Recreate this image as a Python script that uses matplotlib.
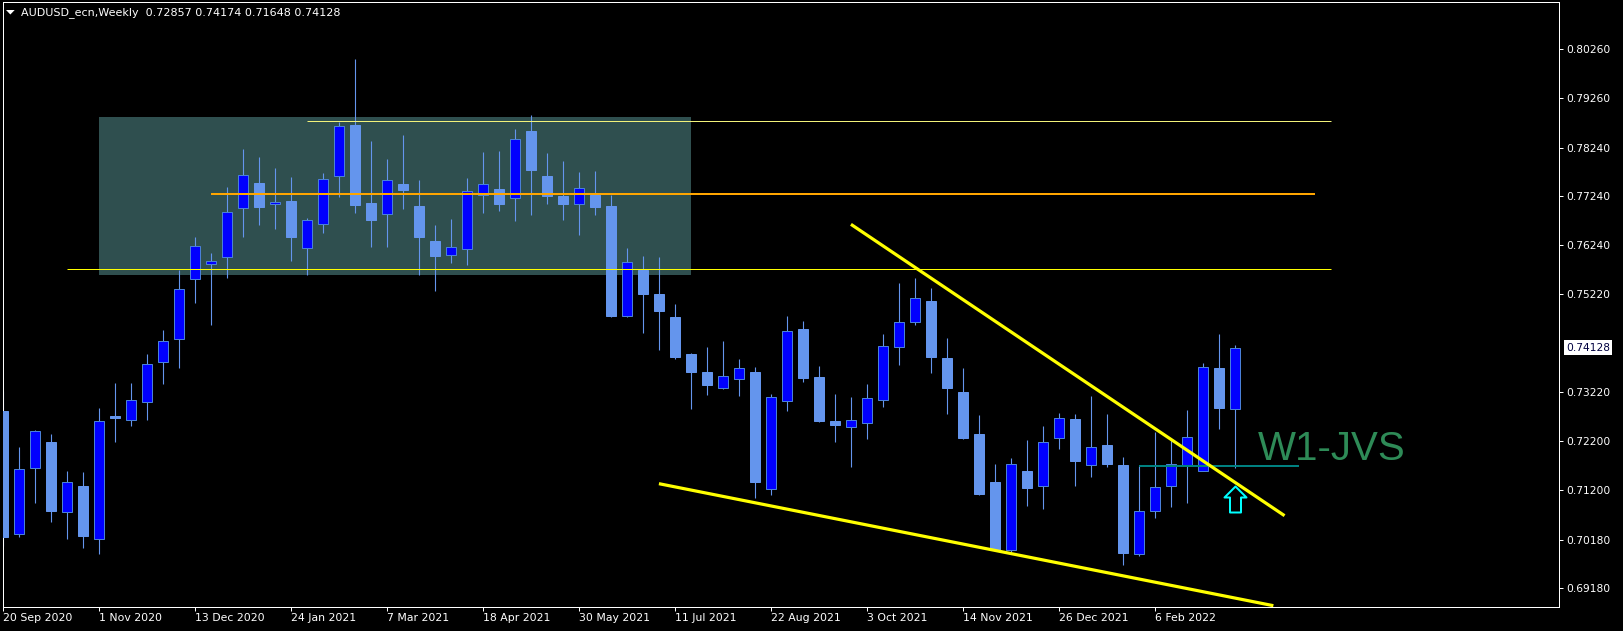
import matplotlib
matplotlib.use("Agg")
import matplotlib.pyplot as plt
from matplotlib.patches import Rectangle, Polygon
from matplotlib.path import Path
import matplotlib.transforms as mtransforms

# weekly AUDUSD candles, 20 Sep 2020 .. 13 Mar 2022 (one per week)
opens = [0.72824, 0.70289, 0.71646, 0.72181, 0.70742, 0.71282, 0.70199, 0.72721, 0.72633, 0.73003,
         0.73825, 0.74298, 0.75531, 0.75840, 0.75984, 0.76991, 0.77511, 0.77073, 0.77141, 0.76169,
         0.76662, 0.77649, 0.78697, 0.77100, 0.76868, 0.77491, 0.77038, 0.76319, 0.76025, 0.76148,
         0.77258, 0.77388, 0.77197, 0.78580, 0.77655, 0.77244, 0.77073, 0.77264, 0.77038, 0.74783,
         0.75729, 0.75229, 0.74756, 0.73996, 0.73626, 0.73303, 0.73488, 0.73626, 0.71214, 0.73023,
         0.74510, 0.73523, 0.72618, 0.72489, 0.72571, 0.73050, 0.74133, 0.74647, 0.75085, 0.73907,
         0.73215, 0.72351, 0.71364, 0.69967, 0.71584, 0.71276, 0.72263, 0.72660, 0.71714, 0.72125,
         0.71714, 0.69890, 0.70762, 0.71276, 0.71708, 0.71584, 0.73708, 0.72857]
highs = [0.73235, 0.72084, 0.72433, 0.72351, 0.71591, 0.71570, 0.72886, 0.73400, 0.73400, 0.74002,
         0.74489, 0.75723, 0.76401, 0.76072, 0.77429, 0.78210, 0.78046, 0.77819, 0.77634, 0.76785,
         0.77717, 0.78765, 0.80054, 0.78374, 0.78004, 0.78498, 0.77573, 0.76648, 0.76771, 0.77614,
         0.78142, 0.78169, 0.78621, 0.78909, 0.78128, 0.77963, 0.77737, 0.77758, 0.77264, 0.76175,
         0.76010, 0.75990, 0.75024, 0.74016, 0.74140, 0.74263, 0.73893, 0.73729, 0.73167, 0.74777,
         0.74674, 0.73749, 0.73174, 0.73112, 0.73379, 0.74407, 0.75455, 0.75558, 0.75353, 0.74318,
         0.73702, 0.72736, 0.71735, 0.71858, 0.72228, 0.72516, 0.72783, 0.72756, 0.73133, 0.72762,
         0.71885, 0.71700, 0.72399, 0.72228, 0.72845, 0.73817, 0.74407, 0.74174]
lows = [0.70055, 0.70240, 0.70939, 0.70548, 0.70199, 0.70014, 0.69891, 0.72187, 0.72516, 0.72639,
        0.73385, 0.73714, 0.75050, 0.74598, 0.75564, 0.76401, 0.76654, 0.76572, 0.75914, 0.75626,
        0.76489, 0.77229, 0.76900, 0.76202, 0.76202, 0.76977, 0.75620, 0.75297, 0.75873, 0.75825,
        0.76900, 0.76935, 0.76736, 0.76859, 0.77085, 0.76757, 0.76448, 0.76859, 0.74763, 0.74763,
        0.74434, 0.74078, 0.73893, 0.72871, 0.73153, 0.73283, 0.73139, 0.71042, 0.71103, 0.72830,
        0.73426, 0.72604, 0.72193, 0.71679, 0.72255, 0.72913, 0.73776, 0.74592, 0.73599, 0.72756,
        0.72255, 0.71103, 0.69967, 0.69926, 0.70877, 0.70809, 0.72049, 0.71288, 0.71473, 0.71679,
        0.69658, 0.69849, 0.70631, 0.70857, 0.70939, 0.71584, 0.72448, 0.71648]
closes = [0.70240, 0.71626, 0.72407, 0.70775, 0.71358, 0.70261, 0.72612, 0.72686, 0.73050, 0.73784,
          0.74257, 0.75326, 0.76210, 0.75901, 0.76909, 0.77669, 0.77024, 0.77120, 0.76407, 0.76744,
          0.77587, 0.78677, 0.77065, 0.76757, 0.77567, 0.77373, 0.76401, 0.76017, 0.76189, 0.77340,
          0.77485, 0.77085, 0.78409, 0.77784, 0.77250, 0.77085, 0.77414, 0.77024, 0.74783, 0.75881,
          0.75229, 0.74886, 0.73934, 0.73632, 0.73359, 0.73537, 0.73702, 0.71371, 0.73106, 0.74462,
          0.73509, 0.72625, 0.72542, 0.72633, 0.73085, 0.74154, 0.74647, 0.75141, 0.73940, 0.73303,
          0.72275, 0.71124, 0.69967, 0.71728, 0.71247, 0.72181, 0.72674, 0.71802, 0.72084, 0.71741,
          0.69911, 0.70762, 0.71256, 0.71728, 0.72283, 0.73722, 0.72892, 0.74128]

date_labels = ["20 Sep 2020", "1 Nov 2020", "13 Dec 2020", "24 Jan 2021", "7 Mar 2021",
               "18 Apr 2021", "30 May 2021", "11 Jul 2021", "22 Aug 2021", "3 Oct 2021",
               "14 Nov 2021", "26 Dec 2021", "6 Feb 2022"]
date_label_step = 6  # one label every 6 weeks

price_ticks = [0.80260, 0.79260, 0.78240, 0.77240, 0.76240, 0.75220,
               0.73220, 0.72200, 0.71200, 0.70180, 0.69180]

header = "AUDUSD_ecn,Weekly  0.72857 0.74174 0.71648 0.74128"
bid_price = 0.74128

# chart objects (bar index, price)
zone = (6, 43, 0.75620, 0.78868)
levels = [  # (start bar, end bar, price, colour, width px)
    (19, 83, 0.78779, "#f2f27a", 1),
    (13, 82, 0.77291, "#ffa500", 2),
    (4, 83, 0.75743, "#ffff00", 1),
    (71, 81, 0.71700, "#008080", 2),
]
trendlines = [
    ((53.0, 0.76662), (80.1, 0.70672)),
    ((41.0, 0.71330), (79.4, 0.68822)),
]
arrow_bar, arrow_price = 77, 0.71011
label_bar, label_price = 78.4, 0.71817

BULL = "#0000ff"
BEAR = "#6495ed"
WICK = "#6495ed"
PX = 0.72  # one pixel in points at dpi 100


def draw_candles(ax):
    for i, (o, h, l, c) in enumerate(zip(opens, highs, lows, closes)):
        ax.vlines(i, l, h, color=WICK, linewidth=PX * 1.1, zorder=2)
        bottom = min(o, c)
        height = max(abs(c - o), 0.00015)
        if c >= o:
            ax.bar(i, height, bottom=bottom, width=0.6, color=BULL,
                   edgecolor="#4a80d8", linewidth=PX, zorder=3)
        else:
            ax.bar(i, height, bottom=bottom, width=0.6, color=BEAR,
                   edgecolor=BEAR, linewidth=PX, zorder=3)


fig = plt.figure(figsize=(16.23, 6.31), dpi=100, facecolor="black")
ax = fig.add_axes([2.5 / 1623, 1 - 606.7 / 631, (1559.3 - 2.5) / 1623, (606.7 - 2.3) / 631])
ax.set_facecolor("black")

n = len(closes)
ax.set_xlim(-0.025, 97.27)
ax.set_ylim(0.68801, 0.81226)

# zone drawn as background
x0, x1, p0, p1 = zone
ax.add_patch(Rectangle((x0, p0), x1 - x0, p1 - p0, facecolor="#2f4f4f",
                       edgecolor="none", zorder=1))

draw_candles(ax)

for start, end, price, col, w in levels:
    ax.plot([start, end], [price, price], color=col, linewidth=PX * w, zorder=4,
            solid_capstyle="butt")

for (xa, ya), (xb, yb) in trendlines:
    ax.plot([xa, xb], [ya, yb], color="#ffff00", linewidth=PX * 3.2, zorder=5,
            solid_capstyle="butt")

# hollow up arrow
arrow_path = Path([(0, 13), (11, 2), (5.5, 2), (5.5, -13), (-5.5, -13),
                   (-5.5, 2), (-11, 2), (0, 13)], closed=True)
ax.plot(arrow_bar, arrow_price, marker=arrow_path, markersize=26 * PX,
        markerfacecolor="none", markeredgecolor="#00ffff", markeredgewidth=PX * 2,
        linestyle="none", zorder=6)

ax.text(label_bar, label_price, "W1-JVS", color="#2e8b57", fontsize=29,
        family="Liberation Sans", ha="left", va="baseline", zorder=6)

# axes / ticks
for side in ["left", "right", "top", "bottom"]:
    ax.spines[side].set_color("white")
    ax.spines[side].set_linewidth(PX)

ax.yaxis.tick_right()
ax.set_yticks(price_ticks)
ax.set_yticklabels([f"{p:.5f}" for p in price_ticks])
ax.tick_params(axis="y", colors="white", length=4 * PX, width=PX, pad=3 * PX, labelsize=7.7)

ax.set_xticks([k * date_label_step for k in range(len(date_labels))])
ax.set_xticklabels(date_labels)
ax.tick_params(axis="x", colors="white", length=4 * PX, width=PX, pad=2 * PX, labelsize=7.8)
for lab in ax.get_xticklabels():
    lab.set_horizontalalignment("left")
    lab.set_x(lab.get_position()[0])

# current price label
trans = mtransforms.blended_transform_factory(ax.transAxes, ax.transData)
ax.text(1.0043, bid_price, f"{bid_price:.5f}", transform=trans, fontsize=7.7,
        color="#000040", va="center", ha="left", clip_on=False, zorder=10,
        bbox=dict(boxstyle="square,pad=0.2", facecolor="white", edgecolor="none"))

# header
fig.text(21.4 / 1623, 1 - 12.7 / 631, header, color="white", fontsize=8,
         va="center", ha="left")
fig.patches.append(Polygon([(6 / 1623, 1 - 10 / 631), (14.7 / 1623, 1 - 10 / 631),
                            (10.35 / 1623, 1 - 14.5 / 631)], closed=True,
                           facecolor="white", edgecolor="none", transform=fig.transFigure))

fig.savefig("out.png", dpi=100, facecolor="black")
